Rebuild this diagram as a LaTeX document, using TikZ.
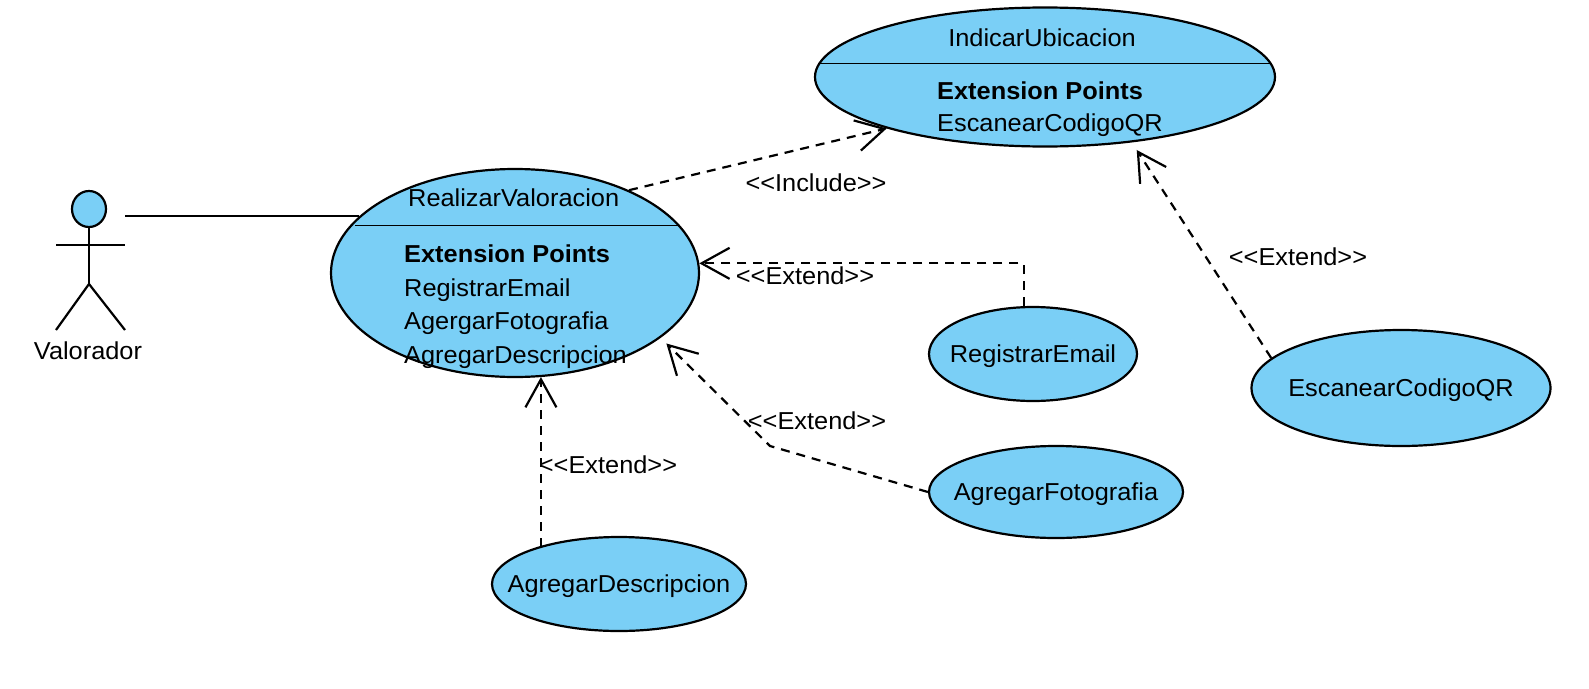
\documentclass[tikz,border=0pt]{standalone}
\usepackage{xcolor}
\usepackage{fontspec}
\setmainfont{Liberation Sans}[FakeStretch=1.035]
\usetikzlibrary{arrows.meta, positioning, shapes.geometric}
\definecolor{casefill}{HTML}{7ACFF6}
\newcommand{\stereo}[1]{<{}<#1>{}>}

\begin{document}
\begin{tikzpicture}[
  x=1pt, y=-1pt,
  usecase/.style={draw, ellipse, fill=casefill, line width=2.2pt, inner xsep=-50pt, inner ysep=0pt, font=\fontsize{24.5}{28}\selectfont, text height=21pt, text depth=5pt},
  txt/.style={inner sep=0pt, font=\fontsize{24.5}{28}\selectfont, text height=21pt, text depth=5pt},
  item/.style={txt, anchor=west},
  divider/.style={line width=1pt},
  assoc/.style={line width=2.2pt},
  extend/.style={line width=2.2pt, dash pattern=on 9pt off 7pt, -{Straight Barb[length=28pt, width=31pt, line width=2.2pt]}}
]
\useasboundingbox (0,0) rectangle (1589,688);

% use cases
\node[usecase, minimum width=460pt, minimum height=139pt] (indicar) at (1045,77) {};
\node[usecase, minimum width=368pt, minimum height=208pt] (realizar) at (515,273) {};
\node[usecase, minimum width=208pt, minimum height=94pt] (registrar) at (1033,354) {RegistrarEmail};
\node[usecase, minimum width=299pt, minimum height=116pt] (escanear) at (1401,388) {EscanearCodigoQR};
\node[usecase, minimum width=254pt, minimum height=92pt] (fotografia) at (1056,492) {AgregarFotografia};
\node[usecase, minimum width=254pt, minimum height=94pt] (descripcion) at (619,584) {AgregarDescripcion};

% compartments
\draw[divider] (818,63) -- (1271,63);
\draw[divider] (355,225) -- (678,225);
\node[txt] (indicarName) at (1042,38) {IndicarUbicacion};
\node[item] (indicarExt) at (937,91) {\textbf{Extension Points}};
\node[item, below=32pt of indicarExt.west, anchor=west] (indicarQR) {EscanearCodigoQR};
\node[item] (realizarName) at (408,198) {RealizarValoracion};
\node[item] (realizarExt) at (404,254) {\textbf{Extension Points}};
\node[item, below=34pt of realizarExt.west, anchor=west] (realizarEmail) {RegistrarEmail};
\node[item, below=33.5pt of realizarEmail.west, anchor=west] (realizarFoto) {AgergarFotografia};
\node[item, below=34pt of realizarFoto.west, anchor=west] (realizarDesc) {AgregarDescripcion};

% actor
\draw[line width=2.2pt, fill=casefill] (89,209) ellipse (17pt and 18pt);
\coordinate (neck) at (89,227);
\coordinate (hip) at (89,284);
\draw[assoc] (neck) -- (hip);
\draw[assoc] (56,245) -- (125,245);
\draw[assoc] (56,330) -- (hip) -- (125,330);
\node[txt] (valorador) at (88,351) {Valorador};
\coordinate (actorRight) at (125,216);

% connectors
\coordinate (fotoBend) at (770,446);
\draw[assoc] (actorRight) -- (actorRight -| realizar.160);
\draw[extend] (realizar.36) -- (indicar.198);
\draw[extend] (registrar.101) |- (realizar.3);
\draw[extend, shorten >=8pt] (fotografia.west) -- (fotoBend) -- (realizar.-24.5);
\draw[extend] (realizar.-76.4 |- descripcion.155) -- (realizar.-76.4);
\draw[extend, shorten >=9pt] (escanear.167.8) -- (indicar.-37.7);

% labels
\node[txt] (includeLabel) at (816,183) {\stereo{Include}};
\node[txt] (extendEmail) at (805,276) {\stereo{Extend}};
\node[txt] (extendFoto) at (817,421) {\stereo{Extend}};
\node[txt] (extendDesc) at (608,465) {\stereo{Extend}};
\node[txt] (extendQR) at (1298,257) {\stereo{Extend}};
\end{tikzpicture}
\end{document}
